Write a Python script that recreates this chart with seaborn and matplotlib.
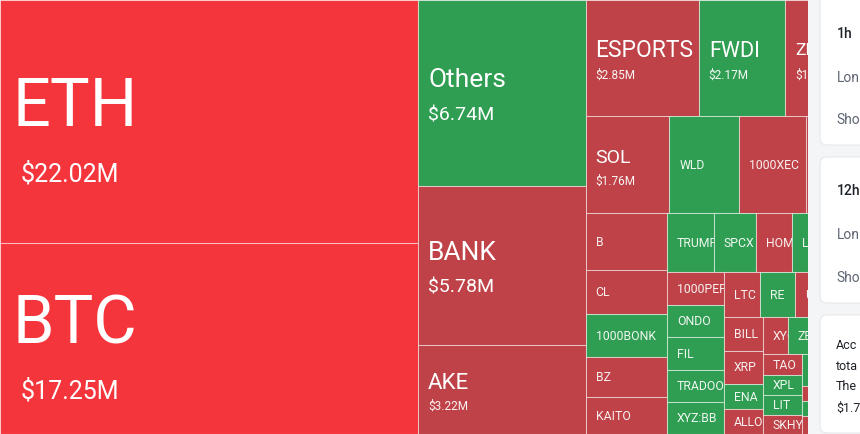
import matplotlib
matplotlib.use("Agg")
import matplotlib.pyplot as plt
from matplotlib.patches import Rectangle, FancyBboxPatch
from matplotlib.transforms import Bbox, TransformedBbox
import seaborn as sns

# ---------------- data (liquidation heatmap, values in $M) ----------------
names = ["ETH", "BTC",
         "Others", "BANK", "AKE",
         "ESPORTS", "FWDI", "ZEC",
         "SOL", "WLD", "1000XEC", "",
         "B", "CL", "1000BONK", "BZ", "KAITO",
         "TRUMP", "SPCX", "HOME", "L",
         "1000PEPE", "ONDO", "FIL", "TRADOOR", "XYZ:BB",
         "LTC", "RE", "U",
         "BILL", "XRP", "ENA", "ALLO",
         "XYO", "ZE",
         "TAO", "XPL", "LIT", "SKHYNIX",
         "",
         "", "", ""]
values = [22.02, 17.25,
          6.74, 5.78, 3.22,
          2.85, 2.17, 1.89,
          1.76, 1.47, 1.40, 1.13,
          1.00, 0.77, 0.76, 0.70, 0.65,
          0.59, 0.54, 0.45, 0.86,
          0.41, 0.405, 0.40, 0.40, 0.40,
          0.35, 0.345, 0.64,
          0.28, 0.275, 0.215, 0.205,
          0.20, 0.58,
          0.175, 0.172, 0.166, 0.165,
          0.40,
          0.194, 0.182, 0.231]
trend = ["down+", "down+",
         "up", "down", "down",
         "down", "up", "down",
         "down", "up", "down", "down",
         "down", "down", "up", "down", "down",
         "up", "up", "down", "up",
         "down", "up", "up", "up", "up",
         "down", "up", "down",
         "down", "down", "up", "down",
         "down", "up",
         "down", "up", "up", "down",
         "up",
         "down", "up", "down"]
# number of cells in each squarified strip (in order)
strip_sizes = [2, 3, 3, 4, 5, 4, 5, 3, 4, 2, 4, 1, 3]

# visible (cropped) text of the side panel cards
panel_cards = [["1h", "Lon", "Sho"], ["12h", "Lon", "Sho"],
               ["Acc", "tota", "The", "$1.7"]]

# ---------------- style ----------------
COLORS = {"down+": "#F5353C", "down": "#BE4247", "up": "#2F9E52"}
BG = "#F4F5F6"
TW, TH = 860.0, 434.0     # treemap container (px); only part is visible
VIS = 808.0               # visible width of the treemap
PX = 100 / 72.0
CAP = 0.711
MID_FS = {"AKE": 16, "ESPORTS": 16.5, "FWDI": 15.5, "SOL": 14, "ZEC": 12.5}


def squarify_strips(vals, sizes, W, H):
    k = W * H / sum(vals)
    rx, ry, rw, rh = 0.0, 0.0, W, H
    out, i = [], 0
    for n in sizes:
        chunk = vals[i:i + n]
        area = sum(chunk) * k
        if rw >= rh:
            t = area / rh
            yy = ry
            for v in chunk:
                hh = v * k / t
                out.append((rx, yy, t, hh))
                yy += hh
            rx += t
            rw -= t
        else:
            t = area / rw
            xx = rx
            for v in chunk:
                ww = v * k / t
                out.append((xx, ry, ww, t))
                xx += ww
            ry += t
            rh -= t
        i += n
    return out


assert len(names) == len(values) == len(trend) == sum(strip_sizes)

sns.set_theme(style="white")
plt.rcParams["font.family"] = ["Roboto", "DejaVu Sans"]

fig = plt.figure(figsize=(8.6, 4.34), dpi=100, facecolor=BG)
ax = fig.add_axes([0, 0, VIS / 860, 1])
ax.set_xlim(0, VIS)
ax.set_ylim(0, TH)
ax.axis("off")

rects = squarify_strips(values, strip_sizes, TW, TH)


def put(x, yc, s, fs, clip, color="white", alpha=1.0):
    base = yc + CAP * fs * PX / 2.0
    t = ax.text(x, TH - base, s, fontsize=fs, ha="left", va="baseline",
                color=color, alpha=alpha, clip_on=True)
    t.set_clip_box(clip)


for (x, y, w, h), nm, v, tr in zip(rects, names, values, trend):
    ax.add_patch(Rectangle((x, TH - y - h), w, h, facecolor=COLORS[tr],
                           edgecolor=(1, 1, 1, 0.5), linewidth=0.75))
    if not nm:
        continue
    clip = TransformedBbox(Bbox.from_extents(x, TH - y - h, min(x + w, VIS), TH - y),
                           ax.transData)
    cy = y + h / 2.0
    label = f"${v:.2f}M"
    if v >= 10:
        put(x + 12.5, cy - 19, nm, 48, clip)
        put(x + 21, cy + 51, label, 18, clip)
    elif v >= 5:
        put(x + 10, cy - 15, nm, 19, clip)
        put(x + 10, cy + 20.5, label, 14, clip)
    elif v >= 1.7:
        put(x + 10, cy - 9, nm, MID_FS.get(nm, 14), clip)
        put(x + 10, cy + 16, label, 8.5, clip, alpha=0.95)
    else:
        put(x + 10, cy, nm, 8.8, clip, alpha=0.92)

# ---------------- right-hand panel (cropped cards) ----------------
pax = fig.add_axes([VIS / 860, 0, 1 - VIS / 860, 1])
pax.set_xlim(VIS, 860)
pax.set_ylim(0, TH)
pax.axis("off")
cards = [(-10, 145), (157, 303), (315, 433)]
text_rows = [[33.5, 77.5, 119.5], [190, 234, 277], [345, 365.5, 385.5, 407]]
for ci, ((top, bot), lines, ys) in enumerate(zip(cards, panel_cards, text_rows)):
    pax.add_patch(FancyBboxPatch((820, TH - bot), 80, bot - top,
                                 boxstyle="round,pad=0,rounding_size=7",
                                 facecolor="white", edgecolor="#E6E8EA",
                                 linewidth=0.8, clip_on=True))
    for li, (s, yy) in enumerate(zip(lines, ys)):
        if ci < 2:
            col = "#1E2329" if li == 0 else "#5E6673"
            fw = "medium" if li == 0 else "normal"
            fs, tx = 10, 836.5
        else:
            col, fw = "#1E2329", "normal"
            fs, tx = 9, 836
        pax.text(tx, TH - (yy + CAP * fs * PX / 2), s, fontsize=fs,
                 color=col, fontweight=fw, ha="left", va="baseline", clip_on=True)

fig.savefig("out.png", dpi=100, facecolor=BG)
